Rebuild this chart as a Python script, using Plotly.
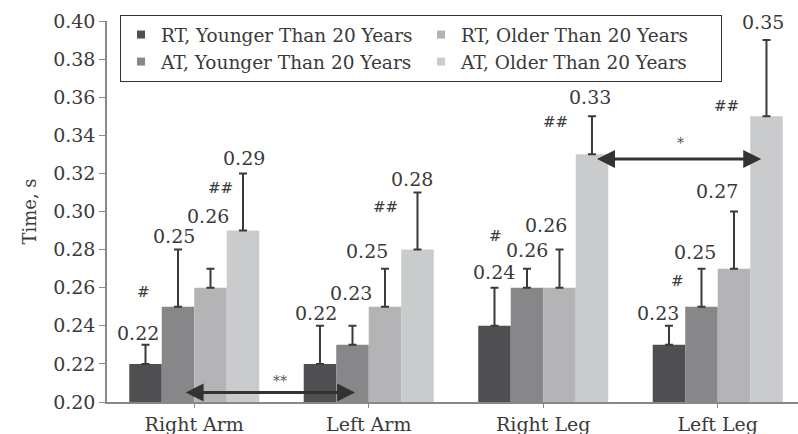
import plotly.graph_objects as go

categories = ["Right Arm", "Left Arm", "Right Leg", "Left Leg"]
series_names = [
    "RT, Younger Than 20 Years",
    "AT, Younger Than 20 Years",
    "RT, Older Than 20 Years",
    "AT, Older Than 20 Years",
]
rt_young = [0.22, 0.22, 0.24, 0.23]
at_young = [0.25, 0.23, 0.26, 0.25]
rt_old = [0.26, 0.25, 0.26, 0.27]
at_old = [0.29, 0.28, 0.33, 0.35]
rt_young_err = [0.01, 0.02, 0.02, 0.01]
at_young_err = [0.03, 0.01, 0.01, 0.02]
rt_old_err = [0.01, 0.02, 0.02, 0.03]
at_old_err = [0.03, 0.03, 0.02, 0.04]
y_ticks = [0.20, 0.22, 0.24, 0.26, 0.28, 0.30, 0.32, 0.34, 0.36, 0.38, 0.40]
# significance marks: (series index, category index, text)
hash_marks = [(1, 0, "#"), (1, 2, "#"), (1, 3, "#"),
              (3, 0, "##"), (3, 1, "##"), (3, 2, "##"), (3, 3, "##")]
# comparison arrows: (series index, from category, to category, level, text)
comparisons = [(1, 0, 1, 0.205, "**"), (3, 2, 3, 0.3275, "*")]

values = [rt_young, at_young, rt_old, at_old]
errors = [rt_young_err, at_young_err, rt_old_err, at_old_err]
colors = ["#4f4f51", "#87878a", "#b4b4b6", "#cacbcd"]
legend_rank = [1, 3, 2, 4]
FONT = "DejaVu Serif"
TXT = "#3a3a3a"

bargap = 0.255
nser = len(values)
barw = (1 - bargap) / nser

def bar_x(j, i):
    return i + (j - (nser - 1) / 2) * barw

fig = go.Figure()
for j in range(nser):
    fig.add_trace(go.Bar(
        x=list(range(len(categories))), y=values[j], name=series_names[j],
        marker=dict(color=colors[j], line=dict(width=0)),
        error_y=dict(type="data", array=errors[j], symmetric=False,
                     arrayminus=[0] * len(categories),
                     color="#3a3a3a", thickness=2, width=4),
        showlegend=False,
    ))
for j in range(nser):
    fig.add_trace(go.Scatter(
        x=[None], y=[None], mode="markers", name=series_names[j],
        marker=dict(symbol="square", size=8, color=colors[j]),
        legendrank=legend_rank[j],
    ))

# value label offsets in px (xshift, yshift) relative to top of error bar
label_shift = [
    [(-8, 12), (-4, 14), (-3, 53), (1, 15)],
    [(-4, 13), (-1, 33), (-18, 18), (-5, 13)],
    [(0, 16), (0, 19), (-13, 25), (-2, 19)],
    [(-11, 13), (-6, 17), (-17, 21), (-3, 18)],
]
annotations = []
for i in range(len(categories)):
    for j in range(nser):
        xs, ys = label_shift[i][j]
        annotations.append(dict(
            x=bar_x(j, i), y=values[j][i] + errors[j][i], xref="x", yref="y",
            text=f"{values[j][i]:.2f}", showarrow=False,
            xshift=xs, yshift=ys, font=dict(family=FONT, size=19, color=TXT)))

hash_shift = {(1, 0): (-35, 15), (1, 2): (-31, 52), (1, 3): (-24, 26),
              (3, 0): (-23, 43), (3, 1): (-32, 43), (3, 2): (-36, 32), (3, 3): (-40, 10)}
for j, i, t in hash_marks:
    xs, ys = hash_shift[(j, i)]
    annotations.append(dict(
        x=bar_x(j, i), y=values[j][i], xref="x", yref="y", text=t,
        showarrow=False, xshift=xs, yshift=ys,
        font=dict(family=FONT, size=15, color=TXT)))

for j, i0, i1, lvl, t in comparisons:
    x0 = bar_x(j, i0) + (0.035 if t == "**" else 0.02)
    x1 = bar_x(j, i1) + (0.015 if t == "**" else -0.03)
    annotations.append(dict(
        x=x1, y=lvl, ax=x0, ay=lvl, xref="x", yref="y", axref="x", ayref="y",
        text="", showarrow=True, arrowhead=2, arrowside="end+start",
        arrowsize=1.2, arrowwidth=3, arrowcolor="#333333",
        standoff=0, startstandoff=0))
    annotations.append(dict(
        x=(x0 + x1) / 2, y=lvl, xref="x", yref="y", text=t, showarrow=False,
        yshift=16 if t == "*" else 11, xshift=2 if t == "*" else 10,
        font=dict(family=FONT, size=14, color="#555555")))

fig.update_layout(
    width=798, height=434,
    margin=dict(l=107, r=0, t=21, b=32, autoexpand=False),
    paper_bgcolor="white", plot_bgcolor="white",
    barmode="group", bargap=bargap, bargroupgap=0,
    font=dict(family=FONT, size=19, color=TXT),
    annotations=annotations,
    legend=dict(
        orientation="h", x=0.0188, y=1.0157, xanchor="left", yanchor="top",
        entrywidth=255, entrywidthmode="pixels",
        bordercolor="#333333", borderwidth=1, bgcolor="white",
        font=dict(family=FONT, size=18.5, color=TXT),
        tracegroupgap=0, itemclick=False,
    ),
    xaxis=dict(
        range=[-0.5, 3.46], tickmode="array",
        tickvals=list(range(len(categories))), ticktext=categories,
        showline=True, linecolor="#888888", linewidth=1.5,
        ticks="outside", tickson="boundaries", ticklen=4, tickcolor="#888888",
        showgrid=False, zeroline=False,
        tickfont=dict(family=FONT, size=19, color=TXT),
    ),
    yaxis=dict(
        range=[0.20, 0.40], tickmode="array", tickvals=y_ticks,
        ticktext=[f"{v:.2f}" for v in y_ticks],
        showline=True, linecolor="#888888", linewidth=1.5,
        ticks="outside", ticklen=6, tickcolor="#888888",
        showgrid=False, zeroline=False,
        tickfont=dict(family=FONT, size=19, color=TXT),
        title=dict(text="Time, s", standoff=12,
                   font=dict(family=FONT, size=18, color=TXT)),
    ),
)

fig.write_html("out.html",
               config={"displayModeBar": False},
               post_script="document.body.style.margin='0';document.body.style.overflow='hidden';")
